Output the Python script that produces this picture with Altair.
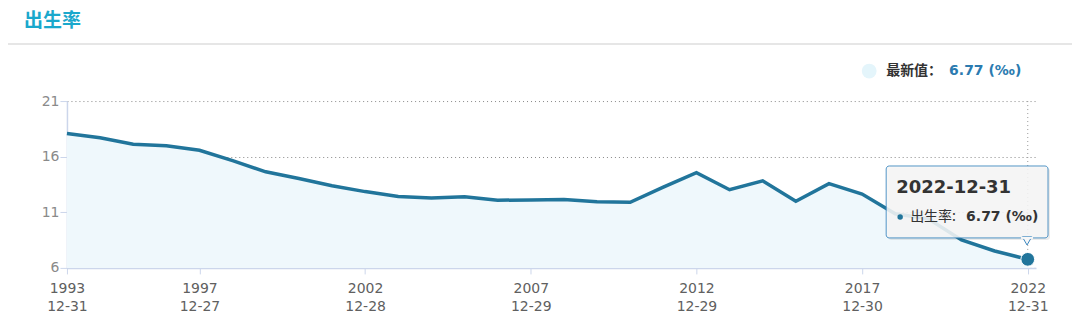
import altair as alt
import pandas as pd

years = list(range(1993, 2023))
birth_rate = [18.09, 17.70, 17.12, 16.98, 16.57, 15.64, 14.64, 14.03, 13.38, 12.86,
              12.41, 12.29, 12.40, 12.09, 12.10, 12.14, 11.95, 11.90, 13.27, 14.57,
              13.03, 13.83, 11.99, 13.57, 12.64, 10.86, 10.41, 8.52, 7.52, 6.77]
tick_years = [1993, 1997, 2002, 2007, 2012, 2017, 2022]
tick_dates = ["12-31", "12-27", "12-28", "12-29", "12-29", "12-30", "12-31"]
y_ticks = [6, 11, 16, 21]

df = pd.DataFrame({"year": years, "rate": birth_rate})
last = df[df.year == 2022]

label_expr = "".join(
    f"datum.value=={y}?['{y}','{d}']:" for y, d in zip(tick_years, tick_dates)
) + "''"

FONT = "DejaVu Sans"
CJK = "Noto Sans CJK SC"
LINE = "#21759b"

xs = alt.X("year:Q", scale=alt.Scale(domain=[1993, 2022.25], nice=False, zero=False),
           axis=alt.Axis(values=tick_years, labelExpr=label_expr, title=None, grid=False,
                         labelFontSize=14, labelColor="#606060", labelFont=FONT,
                         labelLineHeight=18, labelPadding=8, tickSize=6,
                         domainColor="#ccd6eb", tickColor="#ccd6eb", labelFlush=False))
ys = alt.Y("rate:Q", scale=alt.Scale(domain=[6, 21], nice=False, zero=False),
           axis=alt.Axis(values=y_ticks, title=None, grid=True, gridDash=[1, 3],
                         gridColor="#888888", labelFontSize=14, labelColor="#8a8a8a",
                         labelFont=FONT, tickSize=7, labelPadding=1,
                         domainColor="#ccd6eb", tickColor="#ccd6eb"))

base = alt.Chart(df)
area = base.mark_area(color="#eff8fc").encode(x=xs, y=ys, y2=alt.datum(6))
line = base.mark_line(color=LINE, strokeWidth=3.5).encode(x="year:Q", y="rate:Q")
cross = alt.Chart(last).mark_rule(color="#999999", strokeDash=[1, 3]).encode(
    x="year:Q", y=alt.value(0), y2=alt.value(167))
pt = alt.Chart(last).mark_point(filled=True, size=190, color=LINE, opacity=1,
                                stroke="white", strokeWidth=1).encode(x="year:Q", y="rate:Q")

one = pd.DataFrame({"a": [0]})
def txt(text, x, y, size=14, color="#333333", weight="normal", font=CJK, align="left"):
    return alt.Chart(one).mark_text(text=text, fontSize=size, color=color, fontWeight=weight,
                                    font=font, align=align, baseline="middle").encode(
        x=alt.value(x), y=alt.value(y))

title = txt("出生率", -43, -80, size=19, color="#1aa8cc", weight="bold")
sep = alt.Chart(one).mark_rule(color="#e6e6e6", strokeWidth=2).encode(
    x=alt.value(-59), x2=alt.value(1013), y=alt.value(-57))
leg_dot = alt.Chart(one).mark_point(filled=True, size=220, color="#e4f5fb", opacity=1).encode(
    x=alt.value(803), y=alt.value(-30))
leg1 = txt("最新值：", 820, -30, size=14, weight="bold", color="#333333")
leg2 = txt("6.77 (‰)", 883, -30, size=14, weight="bold", color="#2b7bb0", font=FONT)

shadow = alt.Chart(one).mark_rect(fill="#000000", opacity=0.08, cornerRadius=3).encode(
    x=alt.value(822), x2=alt.value(984), y=alt.value(67), y2=alt.value(139))
box = alt.Chart(one).mark_rect(fill="#f7f7f7", opacity=0.88, stroke="#3a87bf",
                               strokeWidth=1, cornerRadius=3).encode(
    x=alt.value(820), x2=alt.value(982), y=alt.value(65), y2=alt.value(137))
notch = alt.Chart(one).mark_point(shape="triangle-down", filled=True, size=90,
                                  fill="#f7f7f7", stroke="#3a87bf", strokeWidth=1,
                                  opacity=1).encode(x=alt.value(961), y=alt.value(140))
notch_cover = alt.Chart(one).mark_rule(color="#f7f7f7", strokeWidth=2).encode(
    x=alt.value(955), x2=alt.value(967), y=alt.value(137))
tt1 = txt("2022-12-31", 830, 87, size=18, weight="bold", font=FONT)
tt_dot = alt.Chart(one).mark_point(filled=True, size=30, color=LINE, opacity=1).encode(
    x=alt.value(834), y=alt.value(116))
tt2 = txt("出生率:", 844, 116, size=14)
tt3 = txt("6.77 (‰)", 900, 116, size=14, weight="bold", font=FONT)

chart = alt.layer(
    area, line, cross, pt, title, sep, leg_dot, leg1, leg2,
    shadow, box, notch, notch_cover, tt1, tt_dot, tt2, tt3
).properties(
    width=970, height=167,
    autosize=alt.AutoSizeParams(type="none"),
    padding={"left": 59, "top": 93, "right": 36, "bottom": 50},
).configure_view(stroke=None).configure_axis(domainWidth=1.5)

chart.save("out.html", embed_options={"renderer": "svg", "actions": False})
